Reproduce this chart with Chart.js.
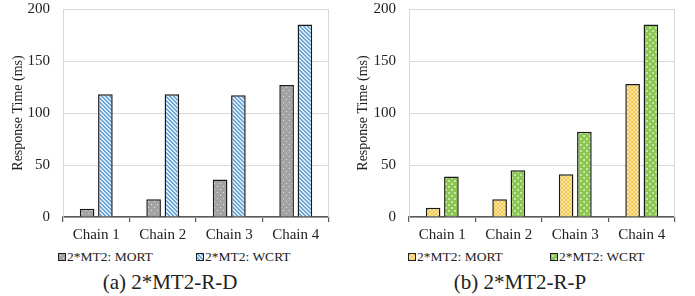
<!DOCTYPE html>
<html>
<head>
<meta charset="utf-8">
<script src="https://cdn.jsdelivr.net/npm/chart.js@4.4.1/dist/chart.umd.min.js"></script>
<style>
  html, body { margin: 0; padding: 0; background: #fff; }
  body { width: 695px; height: 296px; position: relative; overflow: hidden;
         font-family: "Liberation Serif", "Times New Roman", serif; color: #222; }
  .panel { position: absolute; top: 0; height: 296px; }
  .panel canvas { position: absolute; left: 0; top: 0; }
  .legend { position: absolute; top: 249px; font-size: 13.5px; white-space: nowrap; line-height: 16px; }
  .legend span.item { position: absolute; top: 0; }
  .legend i { display: inline-block; width: 6px; height: 6px; border: 1px solid #222;
              vertical-align: 0px; margin-right: 1px; }
  .caption { position: absolute; top: 270px; font-size: 21px; line-height: 24px; white-space: nowrap;
             transform: translateX(-50%); }
</style>
</head>
<body>
<div class="panel" id="panelA" style="left:0;width:345px">
  <canvas id="chartA" width="345" height="245"></canvas>
  <div class="legend" id="legendA"></div>
  <div class="caption" style="left:170px">(a) 2*MT2-R-D</div>
</div>
<div class="panel" id="panelB" style="left:345px;width:350px">
  <canvas id="chartB" width="350" height="245"></canvas>
  <div class="legend" id="legendB"></div>
  <div class="caption" style="left:175px">(b) 2*MT2-R-P</div>
</div>
<script>
  // data
  const chains = ["Chain 1", "Chain 2", "Chain 3", "Chain 4"];
  const seriesNames = ["2*MT2: MORT", "2*MT2: WCRT"];
  const rdMort = [8, 17, 36, 127];
  const rdWcrt = [118, 118, 117, 185];
  const rpMort = [9, 17, 41, 128];
  const rpWcrt = [39, 45, 82, 185];
  const yTicks = [0, 50, 100, 150, 200];

  // wanted plot box (page y) for both panels
  const PLOT_TOP = 9;
  const PLOT_BOTTOM = 217;

  function makeTile(size, paint) {
    const c = document.createElement("canvas");
    c.width = size; c.height = size;
    const ctx = c.getContext("2d");
    paint(ctx, size);
    return c;
  }

  const greyDots = makeTile(6, (ctx, s) => {
    ctx.fillStyle = "#a3a3a3"; ctx.fillRect(0, 0, s, s);
    ctx.fillStyle = "#e2e2e2";
    ctx.fillRect(1, 1, 1, 1); ctx.fillRect(4, 4, 1, 1);
  });
  const blueStripes = makeTile(4, (ctx, s) => {
    for (let y = 0; y < s; y++) {
      for (let x = 0; x < s; x++) {
        ctx.fillStyle = ((x - y + s) % s) < 2 ? "#6fa6d8" : "#dbeaf7";
        ctx.fillRect(x, y, 1, 1);
      }
    }
  });
  const yellowCheck = makeTile(4, (ctx, s) => {
    ctx.fillStyle = "#fbe59a"; ctx.fillRect(0, 0, s, s);
    ctx.fillStyle = "#f0c85a";
    ctx.fillRect(0, 0, 2, 2); ctx.fillRect(2, 2, 2, 2);
  });
  const greenDots = makeTile(6, (ctx, s) => {
    ctx.fillStyle = "#8cc652"; ctx.fillRect(0, 0, s, s);
    ctx.fillStyle = "#c8e4a6";
    ctx.fillRect(1, 1, 2, 2); ctx.fillRect(4, 4, 2, 2);
  });

  const frame = {
    id: "frame",
    beforeDatasetsDraw(chart) {
      const { ctx, chartArea: a } = chart;
      ctx.save();
      ctx.strokeStyle = "#d9d9d9";
      ctx.lineWidth = 1;
      ctx.beginPath();
      ctx.moveTo(a.left + 0.5, a.bottom); ctx.lineTo(a.left + 0.5, a.top);
      ctx.moveTo(a.right - 0.5, a.bottom); ctx.lineTo(a.right - 0.5, a.top);
      ctx.stroke();
      ctx.restore();
    }
  };

  function chartConfig(ctx, mort, wcrt, mortTile, wcrtTile, yWidth, padRight) {
    const font = { family: "'Liberation Serif', 'Times New Roman', serif", size: 15 };
    return {
      type: "bar",
      data: {
        labels: chains,
        datasets: [
          { label: seriesNames[0], data: mort, backgroundColor: ctx.createPattern(mortTile, "repeat") },
          { label: seriesNames[1], data: wcrt, backgroundColor: ctx.createPattern(wcrtTile, "repeat") }
        ].map(d => ({
          ...d,
          borderColor: "#1a1a1a",
          borderWidth: 1.5,
          borderSkipped: "start",
          categoryPercentage: 0.55,
          barPercentage: 0.8
        }))
      },
      options: {
        responsive: false,
        animation: false,
        layout: { padding: { top: 0, right: padRight, left: 0, bottom: 0 } },
        plugins: { legend: { display: false }, tooltip: { enabled: false } },
        scales: {
          x: {
            grid: { offset: true, drawOnChartArea: false, tickLength: 5, color: "#595959", lineWidth: 1.2 },
            border: { color: "#595959", width: 1.5 },
            ticks: { color: "#222", font, padding: 4 }
          },
          y: {
            min: 0, max: 200,
            afterBuildTicks: s => { s.ticks = yTicks.map(v => ({ value: v })); },
            grid: { color: "#d9d9d9", drawTicks: false, lineWidth: 1 },
            border: { display: false },
            ticks: { color: "#222", font, padding: 13 },
            title: {
              display: true, text: "Response Time (ms)", color: "#222",
              font: { family: font.family, size: 14 }, padding: { top: 10, bottom: 0 }
            },
            afterFit: s => { s.width = yWidth; }
          }
        }
      },
      plugins: [frame]
    };
  }

  function buildChart(id, ...args) {
    const canvas = document.getElementById(id);
    const w = canvas.width;
    let chart = new Chart(canvas.getContext("2d"), chartConfig(canvas.getContext("2d"), ...args));
    // chart.js keeps its own top gap, so shift/grow the canvas to land the plot box on the figure's
    const a = chart.chartArea;
    const shift = Math.round(a.top - PLOT_TOP);
    const h = canvas.height + shift + Math.round(PLOT_BOTTOM - a.bottom);
    chart.destroy();
    canvas.width = w; canvas.height = h;
    canvas.style.width = w + "px"; canvas.style.height = h + "px";
    canvas.style.top = (-shift) + "px";
    chart = new Chart(canvas.getContext("2d"), chartConfig(canvas.getContext("2d"), ...args));
    return chart;
  }

  buildChart("chartA", rdMort, rdWcrt, greyDots, blueStripes, 63, 16);
  buildChart("chartB", rpMort, rpWcrt, yellowCheck, greenDots, 64, 20);

  function buildLegend(id, tiles, lefts) {
    const el = document.getElementById(id);
    seriesNames.forEach((name, i) => {
      const item = document.createElement("span");
      item.className = "item";
      item.style.left = lefts[i] + "px";
      const sw = document.createElement("i");
      sw.style.background = "url(" + tiles[i].toDataURL() + ")";
      item.appendChild(sw);
      item.appendChild(document.createTextNode(name));
      el.appendChild(item);
    });
  }
  buildLegend("legendA", [greyDots, blueStripes], [58, 196]);
  buildLegend("legendB", [yellowCheck, greenDots], [63, 205]);
</script>
</body>
</html>
